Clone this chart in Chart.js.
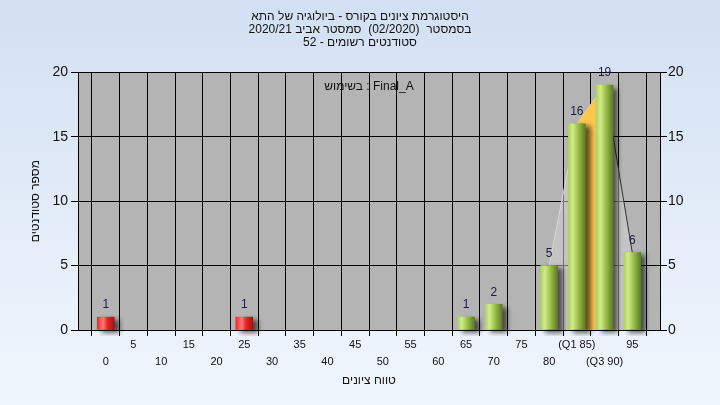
<!DOCTYPE html>
<html>
<head>
<meta charset="utf-8">
<script src="https://cdn.jsdelivr.net/npm/chart.js@4.4.0/dist/chart.umd.min.js"></script>
<style>
  html, body { margin: 0; padding: 0; background: #eef5fd; }
</style>
</head>
<body>
<canvas id="histChart" width="720" height="405"></canvas>
<script>
// RTL embedding so mixed hebrew / number lines come out in the right order
const RLE = '\u202B', PDF = '\u202C';

const titleLines = [
    'היסטוגרמת ציונים בקורס - ביולוגיה של התא',
    RLE + 'בסמסטר  (02/2020)  סמסטר אביב 2020/21' + PDF,
    RLE + 'סטודנטים רשומים - 52' + PDF
];
const noteText = 'בשימוש : Final_A';
const xTitle = 'טווח ציונים';
const yTitle = 'מספר סטודנטים';

const gradeBins = [0, 5, 10, 15, 20, 25, 30, 35, 40, 45, 50, 55, 60, 65, 70, 75, 80, 85, 90, 95];
const tickLabels = ['0', '5', '10', '15', '20', '25', '30', '35', '40', '45', '50', '55', '60', '65', '70', '75', '80', '(Q1 85)', '(Q3 90)', '95'];
const studentCounts = [1, 0, 0, 0, 0, 1, 0, 0, 0, 0, 0, 0, 0, 1, 2, 0, 5, 16, 19, 6];
const quartileBins = [85, 90];
const curveFrom = 80;
const failBelow = 55;

const points = gradeBins.map(function (b, i) { return { x: b, y: studentCounts[i] }; });
const barPoints = points.filter(function (p) { return p.y > 0; });
const curvePoints = points.filter(function (p) { return p.x >= curveFrom; });
const iqrPoints = points.filter(function (p) { return p.x >= quartileBins[0] && p.x <= quartileBins[1]; });

function barFill(c) {
    const chart = c.chart;
    if (!chart.chartArea || !c.raw) return '#9fc24c';
    const cx = chart.scales.x.getPixelForValue(c.raw.x);
    const g = chart.ctx.createLinearGradient(cx - 8.5, 0, cx + 8.5, 0);
    if (c.raw.x < failBelow) {
        g.addColorStop(0, '#f02a2a');
        g.addColorStop(0.35, '#ff7878');
        g.addColorStop(0.6, '#e82424');
        g.addColorStop(1, '#a81212');
    } else {
        g.addColorStop(0, '#aed05e');
        g.addColorStop(0.25, '#d0ec8c');
        g.addColorStop(0.55, '#9fc24c');
        g.addColorStop(1, '#5c7a26');
    }
    return g;
}

const backdrop = {
    id: 'backdrop',
    beforeDraw(chart) {
        const ctx = chart.ctx, a = chart.chartArea;
        const g = ctx.createLinearGradient(0, 0, 0, chart.height);
        g.addColorStop(0, '#d3e0f3');
        g.addColorStop(1, '#f0f6fd');
        ctx.save();
        ctx.fillStyle = g;
        ctx.fillRect(0, 0, chart.width, chart.height);
        ctx.fillStyle = '#b4b4b4';
        ctx.fillRect(a.left, a.top, a.right - a.left, a.bottom - a.top);
        ctx.restore();
    }
};

const barShadow = {
    id: 'barShadow',
    beforeDatasetDraw(chart, args) {
        if (args.meta.type !== 'bar') return;
        const ctx = chart.ctx;
        ctx.save();
        ctx.shadowColor = 'rgba(0,0,0,0.6)';
        ctx.shadowBlur = 5;
        ctx.shadowOffsetX = 5;
        ctx.shadowOffsetY = 3;
    },
    afterDatasetDraw(chart, args) {
        if (args.meta.type !== 'bar') return;
        chart.ctx.restore();
    }
};

const valueLabels = {
    id: 'valueLabels',
    afterDatasetsDraw(chart) {
        const ctx = chart.ctx, a = chart.chartArea;
        const meta = chart.getDatasetMeta(2);
        ctx.save();
        ctx.font = '12px "Liberation Sans", Arial, sans-serif';
        ctx.fillStyle = '#1c1c3c';
        ctx.textAlign = 'center';
        ctx.textBaseline = 'middle';
        meta.data.forEach(function (bar, i) {
            ctx.fillText(String(barPoints[i].y), bar.x, bar.y - 12);
        });
        ctx.fillStyle = '#111';
        ctx.fillText(noteText, (a.left + a.right) / 2, a.top + 14);
        ctx.restore();
    }
};

Chart.defaults.font.family = '"Liberation Sans", Arial, sans-serif';
Chart.defaults.color = '#111';

const ctx = document.getElementById('histChart').getContext('2d');
const histChart = new Chart(ctx, {
    type: 'bar',
    data: {
        datasets: [{
            type: 'line',
            data: iqrPoints,
            fill: 'origin',
            backgroundColor: '#ffc64f',
            borderWidth: 0,
            pointRadius: 0,
            order: 3
        }, {
            type: 'line',
            data: curvePoints,
            fill: 'origin',
            backgroundColor: 'rgba(210,210,210,0.55)',
            borderColor: '#d8d8d8',
            borderWidth: 1,
            pointRadius: 0,
            segment: {
                borderColor: function (s) { return s.p0.parsed.x >= quartileBins[1] ? '#333333' : '#d8d8d8'; }
            },
            order: 4
        }, {
            type: 'bar',
            data: barPoints,
            barThickness: 17,
            backgroundColor: barFill,
            clip: { left: 0, top: 0, right: 10, bottom: 6 },
            order: 1
        }]
    },
    options: {
        responsive: false,
        animation: false,
        devicePixelRatio: 1,
        layout: { padding: 0 },
        plugins: {
            legend: { display: false },
            tooltip: { enabled: false },
            title: {
                display: true,
                text: titleLines,
                color: '#111',
                font: { size: 12, weight: 'normal', lineHeight: 1.09 },
                padding: { top: 10, bottom: 23 }
            }
        },
        scales: {
            x: {
                type: 'linear',
                min: -5,
                max: 100,
                offset: false,
                ticks: {
                    stepSize: 5,
                    autoSkip: false,
                    maxRotation: 0,
                    minRotation: 0,
                    padding: 1,
                    color: '#111',
                    font: { size: 11, lineHeight: 1.5 },
                    callback: function (value) {
                        const i = gradeBins.indexOf(value);
                        if (i < 0) return '';
                        return i % 2 ? [tickLabels[i]] : ['', tickLabels[i]];
                    }
                },
                grid: { color: '#000', tickLength: 6 },
                border: { color: '#000' },
                title: {
                    display: true,
                    text: xTitle,
                    color: '#111',
                    font: { size: 12 },
                    padding: { top: 0, bottom: 17 }
                },
                afterFit: function (s) { s.height = 75; }
            },
            y: {
                position: 'left',
                min: 0,
                max: 20,
                ticks: { stepSize: 5, padding: 3, color: '#111', font: { size: 14 } },
                grid: { color: '#000', tickLength: 7 },
                border: { color: '#000' },
                title: {
                    display: true,
                    text: yTitle,
                    color: '#111',
                    font: { size: 12 },
                    padding: { top: 28, bottom: 0 }
                },
                afterFit: function (s) { s.width = 78; }
            },
            y2: {
                position: 'right',
                min: 0,
                max: 20,
                ticks: { stepSize: 5, padding: 1, color: '#111', font: { size: 14 } },
                grid: { color: '#000', tickLength: 7, drawOnChartArea: false },
                border: { color: '#000' },
                afterFit: function (s) { s.width = 60; }
            }
        }
    },
    plugins: [backdrop, barShadow, valueLabels]
});
</script>
</body>
</html>
